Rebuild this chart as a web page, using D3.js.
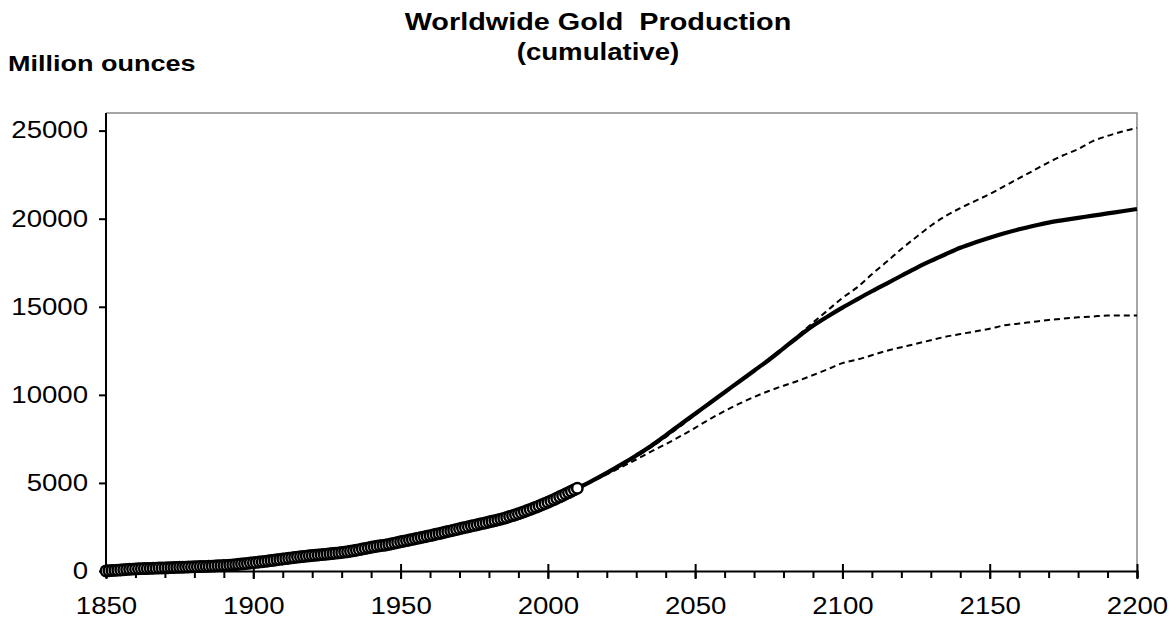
<!DOCTYPE html>
<html lang="en">
<head>
    <meta charset="UTF-8">
    <title>Worldwide Gold Production (cumulative)</title>
    <script src="https://d3js.org/d3.v7.min.js"></script>
    <style>
        body { margin: 0; background: #fff; }
        svg { display: block; font-family: "Liberation Sans", Arial, sans-serif; }
        .title { font-size: 23px; font-weight: bold; text-anchor: middle; white-space: pre; }
        .title.main { font-size: 24px; }
        .unit { font-size: 22.5px; font-weight: bold; }
        .tick text { font-size: 23px; fill: #000; }
    </style>
</head>
<body>
<svg width="1171" height="632"></svg>
<script>
// historical cumulative production, million ounces (one point per year)
const histYears = d3.range(1850, 2011);
const histValues = [
    5, 16, 27, 38, 49, 60, 72, 84, 96, 108,
    120, 126, 132, 138, 144, 150, 156, 162, 168, 174,
    180, 186, 192, 198, 204, 210, 216, 222, 228, 234,
    240, 246, 252, 258, 265, 272, 279, 287, 295, 302,
    310, 322, 335, 349, 364, 380, 397, 414, 432, 451,
    470, 489, 508, 528, 549, 570, 592, 614, 636, 658,
    680, 702, 724, 746, 768, 790, 808, 826, 844, 862,
    880, 896, 912, 928, 944, 960, 977, 995, 1013, 1031,
    1050, 1072, 1096, 1122, 1150, 1180, 1212, 1246, 1280, 1315,
    1350, 1380, 1407, 1432, 1456, 1480, 1514, 1549, 1585, 1622,
    1660, 1693, 1727, 1761, 1795, 1830, 1865, 1901, 1937, 1973,
    2010, 2047, 2085, 2123, 2161, 2200, 2239, 2279, 2319, 2359,
    2400, 2438, 2476, 2514, 2552, 2590, 2628, 2666, 2704, 2742,
    2780, 2820, 2861, 2903, 2946, 2990, 3040, 3092, 3144, 3197,
    3250, 3310, 3371, 3433, 3496, 3560, 3626, 3693, 3761, 3830,
    3900, 3977, 4054, 4132, 4211, 4290, 4371, 4452, 4534, 4617,
    4700
];

// projections, every 5 years
const projYears = d3.range(2010, 2201, 5);
const projCentral = [
    4700, 5120, 5570, 6050, 6560, 7100, 7700, 8320, 8930, 9540,
    10150, 10760, 11370, 11980, 12640, 13300, 13920, 14450, 14950, 15420,
    15880, 16320, 16760, 17200, 17600, 17980, 18350, 18650, 18920, 19170,
    19400, 19600, 19780, 19920, 20050, 20170, 20300, 20420, 20550
];
const projHigh = [
    4700, 5100, 5520, 5980, 6480, 7020, 7600, 8220, 8860, 9500,
    10140, 10780, 11400, 12030, 12680, 13380, 14100, 14800, 15500, 16100,
    16850, 17550, 18280, 18950, 19600, 20150, 20600, 21000, 21400, 21850,
    22300, 22750, 23200, 23600, 23950, 24400, 24700, 24950, 25150
];
const projLow = [
    4700, 5080, 5480, 5900, 6330, 6780, 7200, 7650, 8130, 8620,
    9080, 9500, 9880, 10220, 10520, 10800, 11120, 11450, 11800, 12000,
    12250, 12500, 12700, 12900, 13100, 13300, 13450, 13600, 13750, 13950,
    14050, 14150, 14250, 14330, 14400, 14450, 14500, 14500, 14500
];

const yTicks = [0, 5000, 10000, 15000, 20000, 25000];
const xTicks = [1850, 1900, 1950, 2000, 2050, 2100, 2150, 2200];

const svg = d3.select("svg");
const plotLeft = 106, plotRight = 1137, plotTop = 113, plotBottom = 571;
const stretch = 1.2; // the reference text is a little wider than plain Arial

const x = d3.scaleLinear().domain([1850, 2200]).range([plotLeft, plotRight]);
const y = d3.scaleLinear().domain([0, 26000]).range([plotBottom, plotTop]);

function widen(sel) {
    sel.attr("transform", function () {
        const ax = +d3.select(this).attr("x") || 0;
        return `translate(${ax},0) scale(${stretch},1) translate(${-ax},0)`;
    });
}

// plot area frame (grey top/right)
svg.append("path")
    .attr("d", `M${plotLeft},${plotTop}H${plotRight}V${plotBottom}`)
    .attr("fill", "none")
    .attr("stroke", "#888")
    .attr("stroke-width", 1.5);

// y axis
const yAxis = svg.append("g")
    .attr("transform", `translate(${plotLeft},0)`)
    .call(d3.axisLeft(y).tickValues(yTicks).tickSize(7).tickPadding(11).tickFormat(d3.format("d")));
yAxis.select(".domain").attr("d", `M0,${plotTop}V${plotBottom}`).attr("stroke-width", 2);
yAxis.selectAll(".tick line").attr("stroke-width", 2);
yAxis.selectAll(".tick text").call(widen);

// x axis: minor ticks every 10 years below, major ones crossing
const xMinor = svg.append("g")
    .attr("transform", `translate(0,${plotBottom})`)
    .call(d3.axisBottom(x).tickValues(d3.range(1850, 2201, 10)).tickSize(7).tickFormat(""));
xMinor.select(".domain").attr("stroke-width", 2);
xMinor.selectAll(".tick line").attr("stroke-width", 2);

const xAxis = svg.append("g")
    .attr("transform", `translate(0,${plotBottom})`)
    .call(d3.axisBottom(x).tickValues(xTicks).tickSize(8).tickPadding(19).tickFormat(d3.format("d")));
xAxis.select(".domain").remove();
xAxis.selectAll(".tick line").attr("y1", -7).attr("stroke-width", 2);
xAxis.selectAll(".tick text").call(widen);

// projection lines
const line = d3.line().x((d, i) => x(projYears[i])).y(d => y(d)).curve(d3.curveMonotoneX);

svg.append("path").datum(projHigh)
    .attr("d", line).attr("fill", "none")
    .attr("stroke", "#000").attr("stroke-width", 2).attr("stroke-dasharray", "6,4");
svg.append("path").datum(projLow)
    .attr("d", line).attr("fill", "none")
    .attr("stroke", "#000").attr("stroke-width", 2).attr("stroke-dasharray", "6,4");
svg.append("path").datum(projCentral)
    .attr("d", line).attr("fill", "none")
    .attr("stroke", "#000").attr("stroke-width", 4.2).attr("stroke-linejoin", "round");

// historical points
svg.append("g").selectAll("circle")
    .data(histValues)
    .enter().append("circle")
    .attr("cx", (d, i) => x(histYears[i]))
    .attr("cy", d => y(d))
    .attr("r", 5.2)
    .attr("fill", "#fff")
    .attr("stroke", "#000")
    .attr("stroke-width", 2.5);

// titles
svg.append("text").attr("class", "title main").attr("x", 598).attr("y", 30).text("Worldwide Gold  Production").call(widen);
svg.append("text").attr("class", "title").attr("x", 598).attr("y", 60).text("(cumulative)").call(widen);
svg.append("text").attr("class", "unit").attr("x", 8).attr("y", 71).text("Million ounces").call(widen);
</script>
</body>
</html>
